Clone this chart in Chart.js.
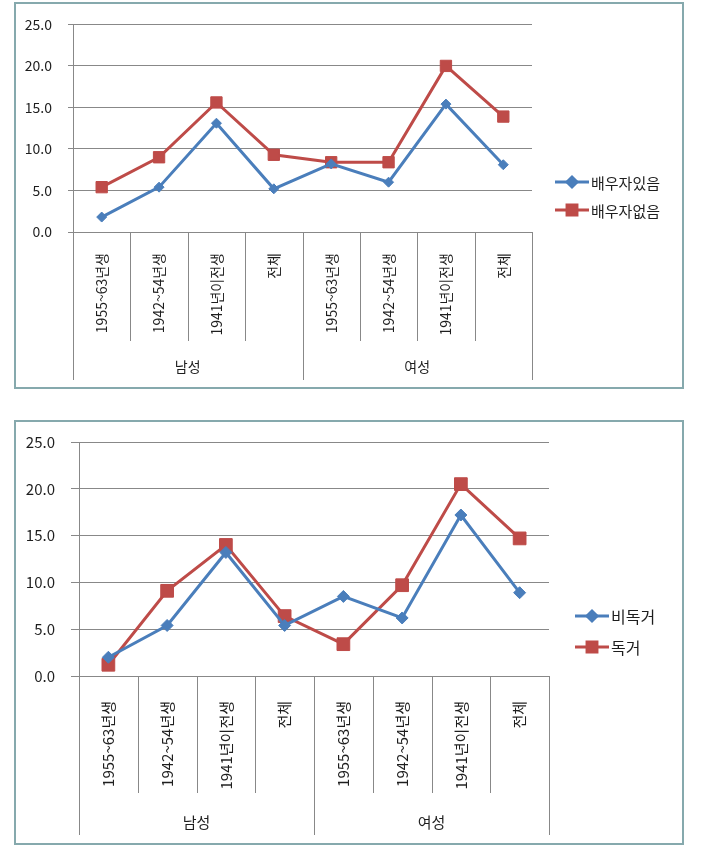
<!DOCTYPE html>
<html>
<head>
<meta charset="utf-8">
<script src="https://cdn.jsdelivr.net/npm/chart.js@4/dist/chart.umd.min.js"></script>
<style>
  body { margin: 0; background: #fff; width: 704px; height: 850px; position: relative; overflow: hidden; }
  .box { position: absolute; border: 2px solid #86a9ad; box-sizing: border-box; }
  canvas { position: absolute; left: 0; }
</style>
</head>
<body>
<div class="box" style="left:14px; top:2px; width:670px; height:387px;"></div>
<div class="box" style="left:14px; top:420px; width:670px; height:425px;"></div>
<canvas id="chart-spouse" width="704" height="392" style="top:0"></canvas>
<canvas id="chart-alone" width="704" height="450" style="top:400px"></canvas>
<script>
var categories = ["1955~63년생", "1942~54년생", "1941년이전생", "전체", "1955~63년생", "1942~54년생", "1941년이전생", "전체"];
var groups = ["남성", "여성"];
var yTicks = [0, 5, 10, 15, 20, 25];

var spouseYes = [1.8, 5.4, 13.1, 5.2, 8.2, 6.0, 15.4, 8.1];
var spouseNo = [5.4, 9.0, 15.6, 9.3, 8.4, 8.4, 20.0, 13.9];

var notAlone = [2.0, 5.4, 13.2, 5.4, 8.5, 6.2, 17.2, 8.9];
var alone = [1.2, 9.1, 14.0, 6.4, 3.4, 9.7, 20.5, 14.7];

var BLUE = "#4a7ebb";
var RED = "#be4b48";
var GRID = "#888888";
var TEXT = "#1e1e1e";
var FONT = "'Noto Sans CJK KR', 'Noto Sans', sans-serif";

// category dividers, group labels and legend, drawn from the x scale
var excelAxis = {
  id: "excelAxis",
  afterDraw: function (chart, args, opts) {
    var ctx = chart.ctx;
    var x = chart.scales.x;
    var top = chart.chartArea.bottom;
    var step = x.getPixelForValue(1) - x.getPixelForValue(0);
    var per = categories.length / groups.length;
    ctx.save();
    ctx.strokeStyle = GRID;
    ctx.lineWidth = 1;
    for (var i = 0; i <= categories.length; i++) {
      var px = Math.round(x.getPixelForValue(0) - step / 2 + i * step) + 0.5;
      var end = i % per === 0 ? opts.groupEnd : opts.innerEnd;
      ctx.beginPath();
      ctx.moveTo(px, top);
      ctx.lineTo(px, end);
      ctx.stroke();
    }
    ctx.fillStyle = TEXT;
    ctx.font = opts.fontSize + "px " + FONT;
    ctx.textAlign = "center";
    ctx.textBaseline = "middle";
    groups.forEach(function (g, gi) {
      var cx = x.getPixelForValue(0) - step / 2 + (gi + 0.5) * per * step;
      ctx.fillText(g, cx, opts.groupY);
    });

    // legend
    ctx.textAlign = "left";
    ctx.font = opts.legendFont + "px " + FONT;
    chart.data.datasets.forEach(function (ds, di) {
      var ly = opts.legendY + di * opts.legendGap;
      var lx = opts.legendX;
      ctx.strokeStyle = ds.borderColor;
      ctx.lineWidth = 3;
      ctx.beginPath();
      ctx.moveTo(lx, ly);
      ctx.lineTo(lx + 34, ly);
      ctx.stroke();
      Chart.helpers.drawPoint(ctx, {
        pointStyle: ds.pointStyle,
        radius: ds.pointStyle === "rect" ? 7 : 5,
        borderWidth: 1
      }, lx + 17, ly);
      ctx.fillStyle = ds.backgroundColor;
      ctx.fill();
      ctx.fillStyle = TEXT;
      ctx.fillText(ds.label, lx + 36, ly + 1);
    });
    ctx.restore();
  }
};

function makeChart(id, labels, yes, no, cfg) {
  var ctx = document.getElementById(id).getContext("2d");
  return new Chart(ctx, {
    type: "line",
    data: {
      labels: categories,
      datasets: [
        {
          label: labels[0],
          data: yes,
          borderColor: BLUE,
          backgroundColor: BLUE,
          borderWidth: 3,
          pointStyle: "rectRot",
          pointRadius: cfg.blueR,
          pointBorderWidth: 1,
        },
        {
          label: labels[1],
          data: no,
          borderColor: RED,
          backgroundColor: RED,
          borderWidth: 3,
          pointStyle: "rect",
          pointRadius: cfg.redR,
          pointBorderWidth: 1,
        },
      ],
    },
    options: {
      responsive: false,
      animation: false,
      layout: { padding: { top: cfg.top, right: cfg.right, left: 0, bottom: 0 } },
      plugins: {
        legend: { display: false },
        tooltip: { enabled: false },
        excelAxis: cfg.axis,
      },
      scales: {
        x: {
          offset: true,
          afterFit: function (s) { s.height = cfg.xHeight; },
          grid: { display: false },
          border: { display: true, color: GRID, width: 1 },
          ticks: {
            autoSkip: false,
            minRotation: 90,
            maxRotation: 90,
            padding: cfg.xPad,
            color: TEXT,
            font: { family: FONT, size: cfg.font },
          },
        },
        y: {
          min: 0,
          max: 25,
          afterFit: function (s) { s.width = cfg.yWidth; },
          afterBuildTicks: function (s) { s.ticks = yTicks.map(function (v) { return { value: v }; }); },
          grid: { color: GRID, tickLength: cfg.tick },
          border: { display: true, color: GRID, width: 1 },
          ticks: {
            padding: cfg.yPad,
            color: TEXT,
            font: { family: FONT, size: cfg.font },
            callback: function (v) { return v.toFixed(1); },
          },
        },
      },
    },
    plugins: [excelAxis],
  });
}

makeChart("chart-spouse", ["배우자있음", "배우자없음"], spouseYes, spouseNo, {
  top: 22, right: 172, yWidth: 73, xHeight: 160, tick: 5, yPad: 16, xPad: 13,
  font: 14, blueR: 5, redR: 8,
  axis: { innerEnd: 341, groupEnd: 380, groupY: 367, fontSize: 14, legendFont: 15, legendX: 555, legendY: 182, legendGap: 28 },
});

makeChart("chart-alone", ["비독거", "독거"], notAlone, alone, {
  top: 42, right: 155, yWidth: 79, xHeight: 174, tick: 8, yPad: 16, xPad: 17,
  font: 15, blueR: 6, redR: 9,
  axis: { innerEnd: 393, groupEnd: 435, groupY: 422, fontSize: 15, legendFont: 16, legendX: 575, legendY: 216, legendGap: 31 },
});
</script>
</body>
</html>
